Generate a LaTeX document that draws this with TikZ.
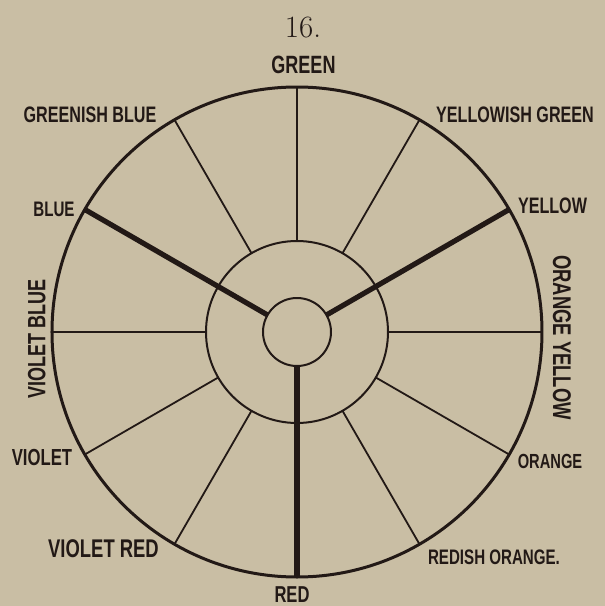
\documentclass[tikz,border=0pt]{standalone}
\usepackage{fontspec}
\newfontfamily\lblfont{Liberation Sans Bold}[FakeStretch=0.72]
\usetikzlibrary{positioning}
\definecolor{paperTan}{HTML}{C9BEA4}
\definecolor{inkBrown}{HTML}{221916}

\begin{document}
\begin{tikzpicture}[x=0.5pt, y=0.5pt,
    lbl/.style={font=\lblfont\fontsize{#1}{#1}\selectfont, text=inkBrown, inner sep=0pt},
    lbl/.default=11.5,
    ring/.style={circle, draw=inkBrown, inner sep=0pt, outer sep=0pt}]
  \fill[paperTan] (-297,-274) rectangle (308,332);
  \node[ring, line width=1.5pt, minimum size=245pt] (rim) at (0,0) {};
  \node[ring, line width=1pt, minimum size=91pt] (band) at (0,0) {};
  \node[ring, line width=1pt, minimum size=34pt] (hub) at (0,0) {};
  % thin spokes between the two outer rings
  \foreach \a in {0,60,90,120,180,210,240,300,330}
    \draw[inkBrown, line width=0.9pt] (band.\a) -- (rim.\a);
  % thick spokes from the hub
  \foreach \a in {30,150,270}
    \draw[inkBrown, line width=2.6pt] (hub.\a) -- (rim.\a);
  \node[font=\fontsize{15.5}{16}\selectfont, text=inkBrown, inner sep=0pt] (num) at (6,304) {16.};
  \node[lbl=12.5] (green) at (6.5,267) {GREEN};
  \node[lbl=11.2] (ygreen) at (218,217.5) {YELLOWISH GREEN};
  \node[lbl=11.2] (yellow) at (255.5,126.5) {YELLOW};
  \node[lbl=12.8, rotate=-90] (oyellow) at (265,-5.5) {ORANGE YELLOW};
  \node[lbl=10.2] (orange) at (253,-129.5) {ORANGE};
  \node[lbl=10.5] (rorange) at (197,-225.5) {REDISH ORANGE.};
  \node[lbl=11.5] (red) at (-5,-263) {RED};
  \node[lbl=12.8] (vred) at (-193.5,-217) {VIOLET RED};
  \node[lbl=11.6] (violet) at (-255,-125.5) {VIOLET};
  \node[lbl=12.5, rotate=90] (vblue) at (-260.3,-7) {VIOLET BLUE};
  \node[lbl=10.5] (blue) at (-243,122.5) {BLUE};
  \node[lbl=11.2] (gblue) at (-207,217) {GREENISH BLUE};
\end{tikzpicture}
\end{document}
